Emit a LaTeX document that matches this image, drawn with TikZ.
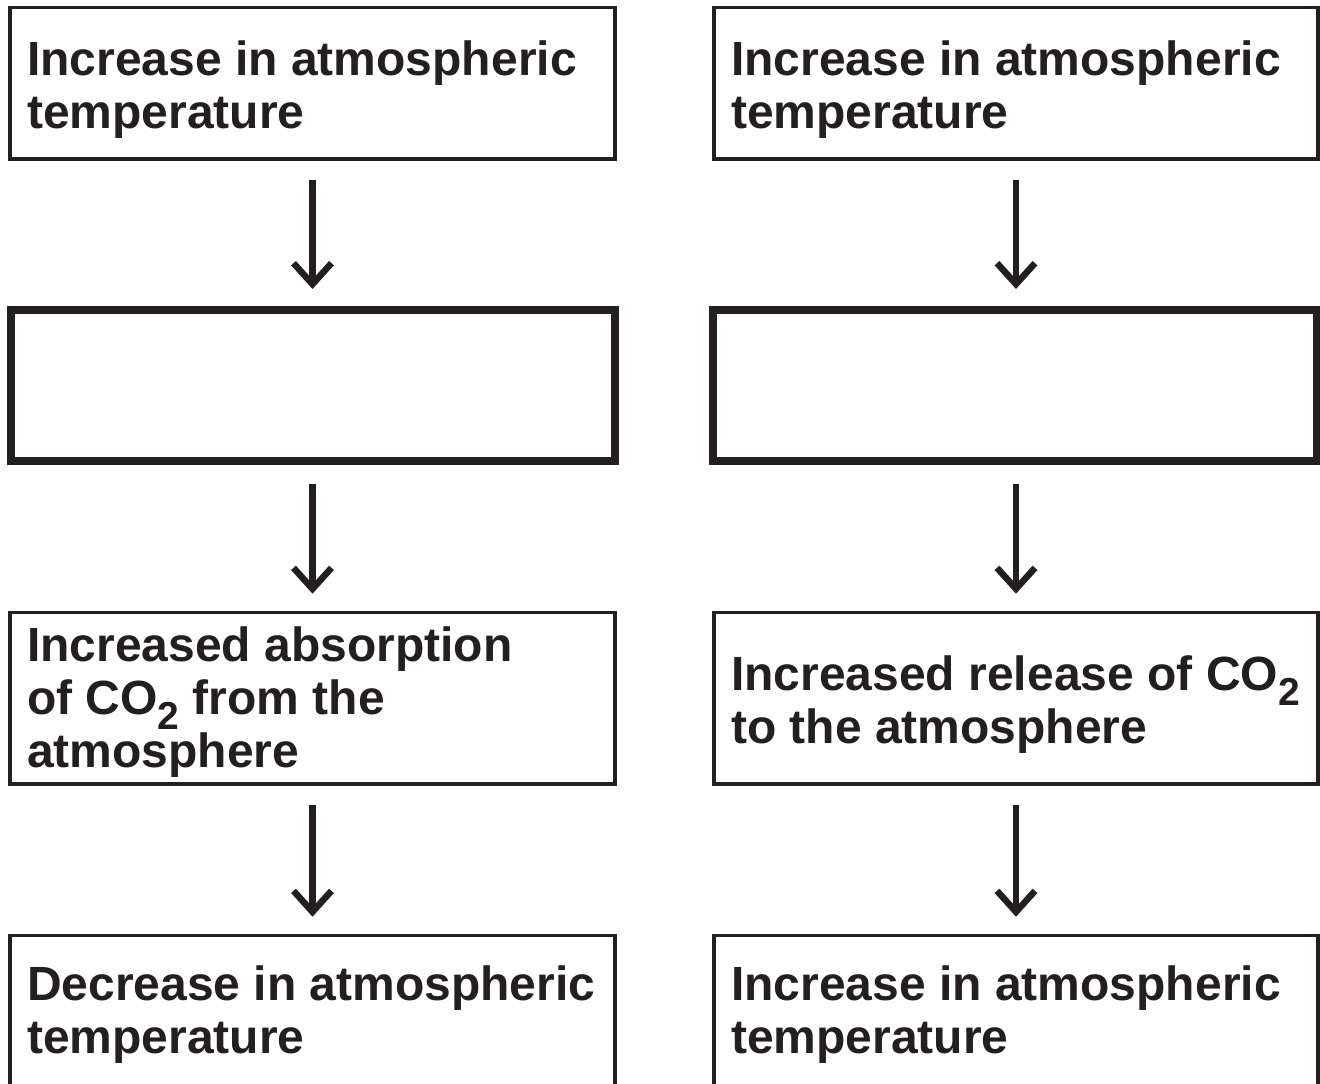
\documentclass[tikz,border=0pt]{standalone}
\usepackage{fontspec}
\setmainfont{Liberation Sans}
\usetikzlibrary{arrows.meta}
\definecolor{ink}{HTML}{231F20}
\newcommand\subtwo{\raisebox{-15pt}{\fontsize{39}{39}\selectfont 2}}
\tikzset{
  box/.style={draw=ink, line width=3.6pt, rectangle, inner sep=0pt},
  thickbox/.style={draw=ink, line width=8pt, rectangle, inner sep=0pt},
  txt/.style={anchor=base west, inner sep=0pt, align=left, text=ink,
    font=\fontsize{48}{52.7}\selectfont\bfseries},
  flow/.style={draw=ink, line width=6.5pt,
    -{Straight Barb[length=21pt,width=38pt,line width=6.5pt,sharp]}}
}
\begin{document}
\begin{tikzpicture}[x=1pt,y=-1pt]
\useasboundingbox (0,0) rectangle (1320,1084);
\clip (0,0) rectangle (1320,1084);
% boxes
\node[box, minimum width=605pt, minimum height=151.5pt] (L1) at (312.5,83.25) {};
\node[box, minimum width=604pt, minimum height=151.5pt] (R1) at (1016,83.25) {};
\node[thickbox, minimum width=604pt, minimum height=151pt] (L2) at (313,385.5) {};
\node[thickbox, minimum width=604pt, minimum height=151pt] (R2) at (1015,385.5) {};
\node[box, minimum width=605pt, minimum height=171.5pt] (L3) at (312.5,698.25) {};
\node[box, minimum width=604pt, minimum height=171.5pt] (R3) at (1016,698.25) {};
\node[box, minimum width=605pt, minimum height=164.5pt] (L4) at (312.5,1017.75) {};
\node[box, minimum width=604pt, minimum height=164.5pt] (R4) at (1016,1017.75) {};
% texts (anchored at the baseline of their last line)
\node[txt] (tL1) at (27,128) {Increase in atmospheric\\temperature};
\node[txt] (tR1) at (731,128) {Increase in atmospheric\\temperature};
\node[txt] (tL3) at (27,767) {Increased absorption\\of CO\subtwo{} from the\\atmosphere};
\node[txt] (tR3) at (731,743) {Increased release of CO\subtwo\\to the atmosphere};
\node[txt] (tL4) at (27,1053) {Decrease in atmospheric\\temperature};
\node[txt] (tR4) at (731,1053) {Increase in atmospheric\\temperature};
% arrows
\draw[flow, shorten <=19pt, shorten >=17pt] (L1.south) -- (L1.south |- L2.north);
\draw[flow, shorten <=19pt, shorten >=17pt] (L2.south -| L1.south) -- (L1.south |- L3.north);
\draw[flow, shorten <=19pt, shorten >=17pt] (L3.south) -- (L4.north);
\draw[flow, shorten <=19pt, shorten >=17pt] (R1.south) -- (R1.south |- R2.north);
\draw[flow, shorten <=19pt, shorten >=17pt] (R2.south -| R1.south) -- (R1.south |- R3.north);
\draw[flow, shorten <=19pt, shorten >=17pt] (R3.south) -- (R4.north);
\end{tikzpicture}
\end{document}
